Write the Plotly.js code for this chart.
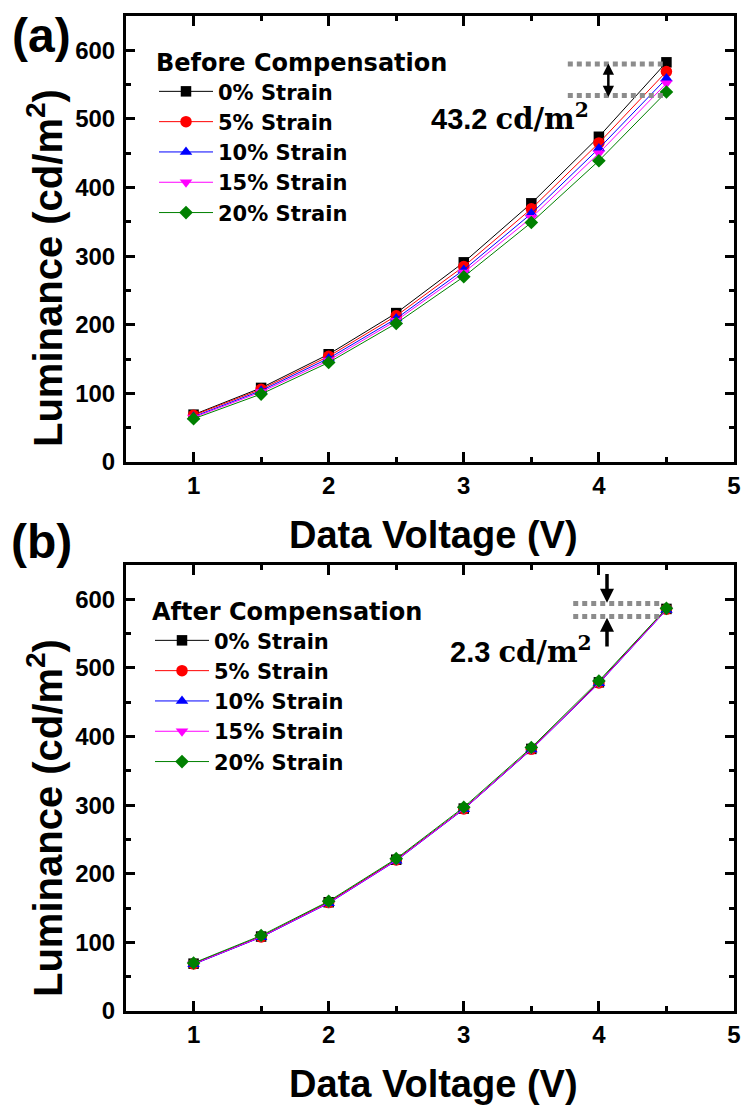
<!DOCTYPE html>
<html>
<head>
<meta charset="utf-8">
<script src="https://cdn.plot.ly/plotly-3.0.1.min.js"></script>
<style>
  html, body { margin: 0; padding: 0; background: #fff; }
  #chart { width: 742px; height: 1108px; }
</style>
</head>
<body>
<div id="chart"></div>
<script>
// ---- data ----
const dataVoltage = [1, 1.5, 2, 2.5, 3, 3.5, 4, 4.5];
const strainLabels = ['0% Strain', '5% Strain', '10% Strain', '15% Strain', '20% Strain'];

// (a) Before compensation (cd/m^2)
const before0  = [69, 108, 157, 217, 291, 377, 474, 582.5];
const before5  = [68, 106, 154, 213, 285, 369, 465, 569];
const before10 = [66, 104, 151, 209, 280, 362, 457, 559];
const before15 = [65, 102, 148, 206, 276, 356, 450, 552];
const before20 = [63, 99, 145, 202, 270, 349, 439, 539.3];

// (b) After compensation (cd/m^2)
const after0  = [69, 108.5, 158.5, 220.5, 295, 382, 479, 586];
const after5  = [68.5, 108, 158, 220, 294.5, 381.5, 478, 585.5];
const after10 = [68, 107.5, 157, 219, 294, 381, 477.5, 584.5];
const after15 = [68.5, 108, 157.5, 219.5, 294.5, 381.5, 478, 585];
const after20 = [70, 110, 160, 222, 297, 384, 481, 586.8];

const panelTitles = ['Before Compensation', 'After Compensation'];
const diffLabels = ['43.2', '2.3'];

// ---- styles ----
const colors = ['#000000', '#ff0000', '#0000ff', '#ff00ff', '#008000'];
const symbols = ['square', 'circle', 'triangle-up', 'triangle-down', 'diamond'];
const sizes = [10.5, 11.5, 11, 11, 10.5];

const beforeSets = [before0, before5, before10, before15, before20];
const afterSets = [after0, after5, after10, after15, after20];

const traces = [];
beforeSets.forEach((ys, i) => {
  traces.push({
    x: dataVoltage, y: ys, type: 'scatter', mode: 'lines+markers',
    name: strainLabels[i], xaxis: 'x', yaxis: 'y', legend: 'legend',
    line: {color: colors[i], width: 1},
    marker: {symbol: symbols[i], color: colors[i], size: sizes[i], line: {width: 0}}
  });
});
afterSets.forEach((ys, i) => {
  traces.push({
    x: dataVoltage, y: ys, type: 'scatter', mode: 'lines+markers',
    name: strainLabels[i], xaxis: 'x2', yaxis: 'y2', legend: 'legend2',
    line: {color: colors[i], width: 1},
    marker: {symbol: symbols[i], color: colors[i], size: sizes[i], line: {width: 0}}
  });
});

const W = 742, H = 1108;
const px = v => v / W;
const py = v => 1 - v / H;

const tickFont = {family: 'Liberation Sans, Arial, sans-serif', size: 24, color: '#000', weight: 'bold'};

function xAxis(anchor) {
  return {
    anchor: anchor, domain: [px(126), px(734)], range: [0.5, 5],
    tickmode: 'linear', tick0: 1, dtick: 1,
    ticks: 'inside', ticklen: 10, tickwidth: 3, tickcolor: '#000',
    minor: {ticks: 'inside', ticklen: 5, tickwidth: 3, tickcolor: '#000', dtick: 0.5, tick0: 0.5, showgrid: false},
    showline: true, linewidth: 3, linecolor: '#000', mirror: 'ticks',
    showgrid: false, zeroline: false, tickfont: tickFont, ticklabelstandoff: 0,
    fixedrange: true
  };
}
function yAxis(anchor, dom) {
  return {
    anchor: anchor, domain: dom, range: [0, 650],
    tickmode: 'linear', tick0: 0, dtick: 100,
    ticks: 'inside', ticklen: 9, tickwidth: 3, tickcolor: '#000',
    minor: {ticks: 'inside', ticklen: 5, tickwidth: 3, tickcolor: '#000', dtick: 50, tick0: 0, showgrid: false},
    showline: true, linewidth: 3, linecolor: '#000', mirror: 'ticks',
    showgrid: false, zeroline: false, tickfont: tickFont, ticklabelstandoff: 3,
    fixedrange: true
  };
}

const legendCommon = {
  xanchor: 'left', yanchor: 'top', bgcolor: 'rgba(0,0,0,0)', borderwidth: 0,
  itemwidth: 54, tracegroupgap: 0,
  font: {family: 'DejaVu Sans, sans-serif', size: 21, color: '#000', weight: 'bold'}
};
const legendTitleFont = {family: 'DejaVu Sans, sans-serif', size: 24, color: '#000', weight: 'bold'};

const titleFont = {family: 'Liberation Sans, Arial, sans-serif', size: 38, color: '#000', weight: 'bold'};
const yTitleFont = {family: 'Liberation Sans, Arial, sans-serif', size: 40, color: '#000', weight: 'bold'};
const panelFont = {family: 'Liberation Sans, Arial, sans-serif', size: 48, color: '#000', weight: 'bold'};
const noteFont = {family: 'Liberation Sans, Arial, sans-serif', size: 29, color: '#000', weight: 'bold'};
const unitSpan = t => '<span style="font-family:\'DejaVu Serif\', serif">' + t + '</span>';

const annotations = [
  // panel labels
  {text: '(a)', xref: 'paper', yref: 'paper', x: px(41), y: py(35), xanchor: 'center', yanchor: 'middle', showarrow: false, font: panelFont},
  {text: '(b)', xref: 'paper', yref: 'paper', x: px(41), y: py(541), xanchor: 'center', yanchor: 'middle', showarrow: false, font: panelFont},
  // axis titles
  {text: 'Data Voltage (V)', xref: 'paper', yref: 'paper', x: px(433), y: py(535), xanchor: 'center', yanchor: 'middle', showarrow: false, font: titleFont},
  {text: 'Data Voltage (V)', xref: 'paper', yref: 'paper', x: px(433), y: py(1084), xanchor: 'center', yanchor: 'middle', showarrow: false, font: titleFont},
  {text: 'Luminance (cd/m<sup>2</sup>)', xref: 'paper', yref: 'paper', x: px(45), y: py(268), xanchor: 'center', yanchor: 'middle', textangle: -90, showarrow: false, font: yTitleFont},
  {text: 'Luminance (cd/m<sup>2</sup>)', xref: 'paper', yref: 'paper', x: px(45), y: py(818), xanchor: 'center', yanchor: 'middle', textangle: -90, showarrow: false, font: yTitleFont},
  // difference notes
  {text: diffLabels[0] + ' ' + unitSpan('cd/m<sup>2</sup>'), xref: 'paper', yref: 'paper', x: px(429), y: py(117), xanchor: 'left', yanchor: 'middle', showarrow: false, font: noteFont},
  {text: diffLabels[1] + ' ' + unitSpan('cd/m<sup>2</sup>'), xref: 'paper', yref: 'paper', x: px(448), y: py(650), xanchor: 'left', yanchor: 'middle', showarrow: false, font: noteFont},
  // arrows (a): double-headed
  {text: '', xref: 'x', yref: 'y', axref: 'x', ayref: 'y', x: 4.07, y: 532, ax: 4.07, ay: 583,
   showarrow: true, arrowhead: 2, startarrowhead: 2, arrowside: 'end+start', arrowsize: 0.9, startarrowsize: 0.9, arrowwidth: 2.5, arrowcolor: '#000', standoff: 0, startstandoff: 0},
  // arrows (b)
  {text: '', xref: 'x2', yref: 'y2', axref: 'x2', ayref: 'y2', x: 4.06, y: 595, ax: 4.06, ay: 639,
   showarrow: true, arrowhead: 2, arrowsize: 0.8, arrowwidth: 3.5, arrowcolor: '#000', standoff: 0},
  {text: '', xref: 'x2', yref: 'y2', axref: 'x2', ayref: 'y2', x: 4.06, y: 573, ax: 4.06, ay: 529,
   showarrow: true, arrowhead: 2, arrowsize: 0.8, arrowwidth: 3.5, arrowcolor: '#000', standoff: 0}
];

const dotLine = {color: '#8c8c8c', width: 5, dash: '5px,4px'};
const shapes = [
  {type: 'line', xref: 'x', yref: 'y', x0: 3.77, x1: 4.49, y0: 580, y1: 580, line: dotLine},
  {type: 'line', xref: 'x', yref: 'y', x0: 3.77, x1: 4.49, y0: 534, y1: 534, line: dotLine},
  {type: 'line', xref: 'x2', yref: 'y2', x0: 3.81, x1: 4.45, y0: 594, y1: 594, line: dotLine},
  {type: 'line', xref: 'x2', yref: 'y2', x0: 3.81, x1: 4.45, y0: 575, y1: 575, line: dotLine}
];

const layout = {
  width: W, height: H,
  margin: {l: 0, r: 0, t: 0, b: 0},
  paper_bgcolor: '#fff', plot_bgcolor: '#fff',
  showlegend: true,
  xaxis: xAxis('y'),
  yaxis: yAxis('x', [py(462), py(16)]),
  xaxis2: xAxis('y2'),
  yaxis2: yAxis('x2', [py(1011), py(565)]),
  legend: Object.assign({}, legendCommon, {x: px(154), y: py(40),
    title: {text: panelTitles[0], side: 'top', font: legendTitleFont}}),
  legend2: Object.assign({}, legendCommon, {x: px(150), y: py(589),
    title: {text: panelTitles[1], side: 'top', font: legendTitleFont}}),
  annotations: annotations,
  shapes: shapes
};

Plotly.newPlot('chart', traces, layout, {displayModeBar: false, staticPlot: true});
</script>
</body>
</html>
